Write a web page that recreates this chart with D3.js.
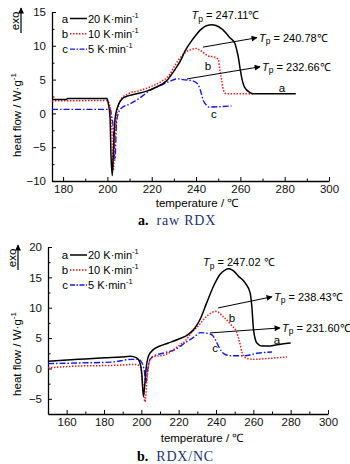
<!DOCTYPE html>
<html>
<head>
<meta charset="utf-8">
<script src="https://cdn.jsdelivr.net/npm/d3@7"></script>
<style>
  body { margin: 0; background: #fff; }
  svg text { font-family: "Liberation Sans Narrow", "Arial Narrow", "Liberation Sans", sans-serif; }
</style>
</head>
<body>
<div id="chart"></div>
<script>
// heat flow curves, [temperature, heat flow]
const rawA = [[175,2.05],[181.5,2.05],[182,2.2],[199.8,2.2],[200.4,1.5],[201.2,-0.6],[201.6,-5.9],[202.2,-9.2],[202.6,-6.5],[203.4,-1.0],[204.1,0.4],[205.6,1.7],[207.2,2.3],[209.4,2.6],[213.2,2.9],[217.7,3.3],[222.2,3.9],[226.8,4.85],[230.5,6.5],[233,7.8],[235,9.2],[238.6,11],[242.5,12.5],[245,13],[247.1,13.1],[249,13],[251.6,12.5],[255.3,11.2],[257.6,10.3],[258.5,9.2],[259.1,8.3],[259.8,6.8],[260.6,5.3],[262,3.8],[264.3,3.1],[265.7,2.9],[285,2.9]];
const rawB = [[175,1.85],[199.8,1.9],[201.2,1.0],[202,-2],[202.6,-8.4],[203.4,-4.4],[204.1,-0.5],[204.9,0.9],[206.4,2.2],[209.4,2.9],[214.7,3.4],[219.2,3.9],[223.7,4.6],[228.2,5.8],[230.5,7.1],[233.5,8.5],[237.3,9.4],[240.3,9.6],[241.5,9.4],[243.3,9.0],[245.5,8.5],[248.5,8.3],[250,8.0],[250.8,6.3],[251.6,4.85],[252.3,3.5],[253.8,2.9],[266,2.9]];
const rawC = [[175,0.6],[201.2,0.6],[202,-0.5],[202.6,-2.0],[203.4,-6.9],[204.1,-1.5],[204.9,0],[206.4,0.8],[210.2,1.4],[214.7,2.3],[219.2,3.4],[223.7,4.1],[228.2,4.75],[231.3,5.1],[232.7,5.1],[234.1,5.0],[238,4.85],[240.3,4.5],[241.8,3.6],[243.3,1.9],[244.8,1.2],[245.5,0.95],[256,1.1]];

const ncA = [[150,1.2],[166.3,1.5],[180.5,1.75],[189.5,1.9],[194,2.0],[197.5,1.75],[199.3,0.9],[200.2,-0.7],[201.1,-4.6],[201.6,-3.5],[202.5,-0.2],[203.8,2.0],[206.4,3.1],[210,3.7],[214.5,4.2],[219.8,4.8],[225.2,5.6],[228.8,6.7],[231.5,8.1],[235,10.8],[238.6,13.5],[242.2,15.5],[244.8,16.2],[247,16.4],[249.2,16.1],[252,15.2],[255.6,14.1],[258.3,12.4],[259.2,10.2],[260.1,6.4],[261.9,4.2],[264.6,3.7],[269,3.7],[272.6,3.9],[276.1,4.05],[280,4.2]];
const ncB = [[150,0.1],[166.3,0.4],[184,0.5],[196.6,0.65],[199.3,0.4],[200.7,-2.4],[202,-5.5],[202.9,-2.3],[204.1,0.9],[206.4,2.0],[210.9,2.1],[216.3,2.85],[219.8,3.7],[223.4,4.5],[227,5.9],[230.5,7.0],[234.1,8.3],[237.7,9.2],[240,9.4],[244,8.5],[248,7.2],[251,6.0],[252.5,4.5],[254,2.6],[256,1.7],[260,1.5],[270,1.7],[278,1.9]];
const ncC = [[150,0.8],[166.3,0.9],[184,1.05],[194.8,1.5],[198.3,1.5],[200.2,1.0],[201.6,-0.4],[202.5,-2.35],[203.2,-0.7],[204.7,1.5],[207.3,2.1],[212.7,2.6],[218,3.1],[223.4,4.2],[228.8,5.3],[231.6,5.9],[235,5.8],[238,5.5],[239.5,4.8],[241.3,3.7],[243,2.8],[245,2.3],[248,2.1],[255,2.1],[262,2.5],[270,2.7]];

const seriesKeys = ["a", "b", "c"];
const legendRates = ["20", "10", "5"];
const rawPeaks = ["247.11℃", "240.78℃", "232.66℃"];
const ncPeaks = ["247.02 ℃", "238.43℃", "231.60℃"];

const styles = {
    a: { color: "#000", dash: null, width: 1.5 },
    b: { color: "#f01010", dash: "1.4,1.6", width: 1.5 },
    c: { color: "#1515ee", dash: "6,2,1.5,2", width: 1.4 }
};

const svg = d3.select("#chart").append("svg")
    .attr("width", 350).attr("height", 464);

svg.append("defs").append("marker")
    .attr("id", "arr").attr("viewBox", "0 0 10 10")
    .attr("refX", 9).attr("refY", 5)
    .attr("markerWidth", 9).attr("markerHeight", 6)
    .attr("markerUnits", "userSpaceOnUse")
    .attr("orient", "auto")
    .append("path").attr("d", "M0,0L10,5L0,10Z").attr("fill", "#000");

function tpText(sel, value) {
    sel.append("tspan").attr("font-style", "italic").text("T");
    sel.append("tspan").attr("font-size", "8.5px").attr("dy", 2.5).text("p");
    sel.append("tspan").attr("dy", -2.5).text(" = " + value);
}

function drawPanel(p) {
    const g = svg.append("g");
    const x = d3.scaleLinear().domain(p.xDomain).range(p.xRange);
    const y = d3.scaleLinear().domain(p.yDomain).range(p.yRange);

    const xAxis = d3.axisBottom(x).tickValues(d3.range(p.xMajor[0], 301, 20))
        .tickSizeInner(-4).tickSizeOuter(0).tickPadding(4);
    const yAxis = d3.axisLeft(y).tickValues(d3.range(p.yMajor[0], p.yMajor[1] + 0.1, 5))
        .tickSizeInner(-4).tickSizeOuter(0).tickPadding(6);

    // minor ticks
    g.append("g").attr("transform", `translate(0,${p.yRange[0]})`)
        .call(d3.axisBottom(x).tickValues(p.xMinor).tickSize(-2.5).tickFormat(""))
        .call(a => a.select(".domain").remove());
    g.append("g").attr("transform", `translate(${p.xRange[0]},0)`)
        .call(d3.axisLeft(y).tickValues(p.yMinor).tickSize(-2.5).tickFormat(""))
        .call(a => a.select(".domain").remove());

    const gx = g.append("g").attr("transform", `translate(0,${p.yRange[0]})`).call(xAxis);
    const gy = g.append("g").attr("transform", `translate(${p.xRange[0]},0)`).call(yAxis);
    [gx, gy].forEach(a => {
        a.selectAll("text").attr("font-size", "11.5px").attr("fill", "#111")
            .style("font-family", '"Liberation Sans Narrow", sans-serif');
        a.select(".domain").attr("stroke-width", 1.3);
    });
    g.selectAll(".tick line").attr("stroke-width", 1);

    const line = d3.line().x(d => x(d[0])).y(d => y(d[1])).curve(d3.curveMonotoneX);

    [["c", p.data.c], ["b", p.data.b], ["a", p.data.a]].forEach(([k, d]) => {
        g.append("path").datum(d)
            .attr("d", line)
            .attr("fill", "none")
            .attr("stroke", styles[k].color)
            .attr("stroke-width", styles[k].width)
            .attr("stroke-dasharray", styles[k].dash)
            .attr("stroke-linejoin", "round");
    });

    // legend
    seriesKeys.forEach((k, i) => {
        const ly = p.legendY + i * p.legendStep;
        g.append("text").attr("x", p.legendX).attr("y", ly + 4)
            .attr("text-anchor", "middle").attr("font-size", "11.5px").text(k);
        g.append("line")
            .attr("x1", p.legendX + 5).attr("x2", p.legendX + 22)
            .attr("y1", ly).attr("y2", ly)
            .attr("stroke", styles[k].color).attr("stroke-width", styles[k].width)
            .attr("stroke-dasharray", k === "c" ? "5,1.5,1.5,1.5" : styles[k].dash);
        const t = g.append("text").attr("x", p.legendX + 23).attr("y", ly + 4)
            .attr("font-size", "11px");
        t.append("tspan").text(legendRates[i] + " K·min");
        t.append("tspan").attr("font-size", "7.5px").attr("dy", -5).text("-1");
    });

    // Tp labels and arrows
    const peak = g.append("text")
        .attr("x", x(p.peakLabel[0])).attr("y", y(p.peakLabel[1]))
        .attr("font-size", "11px");
    tpText(peak, p.peaks[0]);

    p.arrows.forEach((ar, i) => {
        g.append("line")
            .attr("x1", x(ar[0])).attr("y1", y(ar[1]))
            .attr("x2", x(ar[2])).attr("y2", y(ar[3]))
            .attr("stroke", "#000").attr("stroke-width", 1)
            .attr("marker-end", "url(#arr)");
        const t = g.append("text")
            .attr("x", x(ar[2]) + 2).attr("y", y(ar[3]) + 4)
            .attr("font-size", "11px");
        tpText(t, p.peaks[i + 1]);
    });

    p.curveLabels.forEach(cl => {
        g.append("text").attr("x", x(cl[1])).attr("y", y(cl[2]))
            .attr("text-anchor", "middle").attr("font-size", "11.5px").text(cl[0]);
    });

    // axis titles
    const yt = g.append("text")
        .attr("transform", `translate(${p.yTitle[0]},${p.yTitle[1]}) rotate(-90)`)
        .attr("text-anchor", "middle").attr("font-size", "11.5px");
    yt.append("tspan").text("heat flow / W·g");
    yt.append("tspan").attr("font-size", "8px").attr("dy", -5).text("-1");

    g.append("text").attr("x", p.xTitle[0]).attr("y", p.xTitle[1])
        .attr("text-anchor", "middle").attr("font-size", "11.5px")
        .text("temperature / ℃");

    // exo arrow
    g.append("text")
        .attr("transform", `translate(${p.exo[0]},${p.exo[1]}) rotate(-90)`)
        .attr("text-anchor", "middle").attr("font-size", "11.5px").text("exo");
    g.append("line")
        .attr("x1", p.exo[0] + 2).attr("x2", p.exo[0] + 2)
        .attr("y1", p.exo[1] + 12).attr("y2", p.exo[1] - 13)
        .attr("stroke", "#000").attr("stroke-width", 1.2)
        .attr("marker-end", "url(#arr)");

    // caption
    const cap = g.append("text").attr("x", p.caption[0]).attr("y", p.caption[1])
        .attr("font-size", "14px")
        .style("font-family", '"Liberation Serif", "Times New Roman", serif');
    cap.append("tspan").attr("font-weight", "bold").attr("fill", "#000").text(p.captionLetter);
    cap.append("tspan").attr("dx", 8).attr("fill", "#1f3272")
        .attr("letter-spacing", "0.8px").text(p.captionText);
}

drawPanel({
    xDomain: [175, 300], xRange: [52, 329],
    yDomain: [-10, 15], yRange: [181, 12],
    xMajor: [180], xMinor: [190, 210, 230, 250, 270, 290],
    yMajor: [-10, 15], yMinor: [-7.5, -2.5, 2.5, 7.5, 12.5],
    data: { a: rawA, b: rawB, c: rawC },
    legendX: 65, legendY: 18.5, legendStep: 15.3,
    peaks: rawPeaks,
    peakLabel: [238, 13.9],
    arrows: [[243.1, 9.8, 267.5, 11.2], [235.9, 5.1, 268.9, 6.9]],
    curveLabels: [["a", 278.8, 3.2], ["b", 245.4, 6.4], ["c", 248.1, -0.7]],
    yTitle: [21, 115], xTitle: [197, 207],
    exo: [19, 21],
    caption: [138, 225], captionLetter: "a.", captionText: "raw RDX"
});

drawPanel({
    xDomain: [150, 300], xRange: [48, 328],
    yDomain: [-7.5, 20], yRange: [414, 247],
    xMajor: [160], xMinor: [170, 190, 210, 230, 250, 270, 290],
    yMajor: [-5, 20], yMinor: [-2.5, 2.5, 7.5, 12.5, 17.5],
    data: { a: ncA, b: ncB, c: ncC },
    legendX: 65, legendY: 255, legendStep: 15,
    peaks: ncPeaks,
    peakLabel: [233, 16.8],
    arrows: [[241.1, 9.97, 270, 11.8], [236.8, 5.85, 274.3, 6.67]],
    curveLabels: [["a", 272.7, 4.0], ["b", 248.6, 7.7], ["c", 239.5, 2.7]],
    yTitle: [21, 354], xTitle: [202, 442],
    exo: [16, 258],
    caption: [137, 461], captionLetter: "b.", captionText: "RDX/NC"
});
</script>
</body>
</html>
